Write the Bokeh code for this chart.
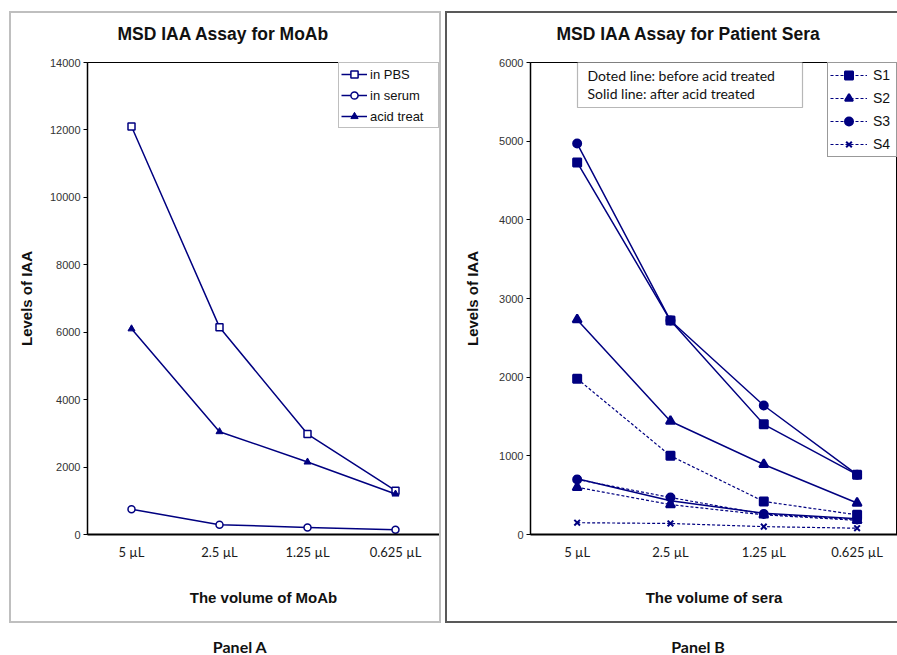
from bokeh.plotting import figure
from bokeh.models import (Range1d, FixedTicker, BoxAnnotation, Label, Legend, LegendItem, Title,
                          InlineStyleSheet)
from bokeh.core.properties import value
from bokeh.layouts import row, column
from bokeh.embed import file_html
from bokeh.resources import INLINE

# ---------------- data ----------------
categories = ["5 \u00b5L", "2.5 \u00b5L", "1.25 \u00b5L", "0.625 \u00b5L"]

# Panel A (MoAb)
moab_pbs = [12100, 6150, 2980, 1300]
moab_serum = [750, 290, 210, 140]
moab_acid = [6100, 3050, 2150, 1200]
ticks_a = [0, 2000, 4000, 6000, 8000, 10000, 12000, 14000]

# Panel B (patient sera) - before acid treatment (dashed)
s1_before = [1980, 1000, 420, 250]
s2_before = [600, 380, 250, 180]
s3_before = [700, 470, 260, 190]
s4_before = [150, 140, 100, 80]
# after acid treatment (solid)
s1_after = [4730, 2720, 1400, 760]
s2_after = [2730, 1440, 890, 400]
s3_after = [4970, 2720, 1640, 760]
s4_after = [710, 430, 270, 200]
ticks_b = [0, 1000, 2000, 3000, 4000, 5000, 6000]
sera_names = ["S1", "S2", "S3", "S4"]
panel_names = ["Panel A", "Panel B"]

NAVY = "#000080"
xs = [i + 0.5 for i in range(len(categories))]


def style_axes(p, xtitle, yticks, x_standoff, y_standoff):
    p.xgrid.visible = False
    p.ygrid.visible = False
    p.outline_line_color = "black"
    p.outline_line_width = 1
    ax = p.xaxis[0]
    ax.ticker = FixedTicker(ticks=xs)
    ax.major_label_overrides = {x: c for x, c in zip(xs, categories)}
    ax.major_tick_line_color = None
    ax.minor_tick_line_color = None
    ax.axis_line_color = "black"
    ax.axis_line_width = 2
    ax.major_label_text_font = "Lato"
    ax.major_label_text_font_size = "13px"
    ax.major_label_text_color = "#1a1a1a"
    ax.major_label_standoff = 3
    ax.axis_label = xtitle
    ax.axis_label_text_font = "Liberation Sans"
    ax.axis_label_text_font_style = "bold"
    ax.axis_label_text_font_size = "15px"
    ax.axis_label_text_color = "#111111"
    ax.axis_label_standoff = x_standoff
    ay = p.yaxis[0]
    ay.ticker = FixedTicker(ticks=yticks)
    ay.major_tick_out = 4
    ay.major_tick_in = 0
    ay.minor_tick_line_color = None
    ay.axis_line_color = "black"
    ay.axis_line_width = 1.5
    ay.major_tick_line_color = "black"
    ay.major_label_text_font = "Liberation Sans"
    ay.major_label_text_font_size = "11px"
    ay.major_label_text_color = "#333333"
    ay.major_label_standoff = 3
    ay.axis_label = "Levels of IAA"
    ay.axis_label_text_font = "Liberation Sans"
    ay.axis_label_text_font_style = "bold"
    ay.axis_label_text_font_size = "15px"
    ay.axis_label_text_color = "#111111"
    ay.axis_label_standoff = y_standoff


def frame_css(left, top, width, height, color, right_edge=True):
    extra = "" if right_edge else " border-right: none;"
    return InlineStyleSheet(css=(
        ":host::after { content: ''; position: absolute; "
        f"left: {left}px; top: {top}px; width: {width}px; height: {height}px; "
        f"border: 2px solid {color};{extra} box-sizing: border-box; "
        "pointer-events: none; z-index: 100; }"))


def chart_title(p, text, offset, standoff):
    p.title = Title(text=text, align="left", offset=offset, standoff=standoff,
                    text_font="Liberation Sans", text_font_style="bold",
                    text_font_size="17.5px", text_color="#111111")


# ---------------- Panel A ----------------
pA = figure(width=445, height=625, x_range=Range1d(0, 4), y_range=Range1d(0, 14000),
            output_backend="svg", toolbar_location=None,
            min_border_left=87, min_border_right=6, min_border_top=62, min_border_bottom=90,
            stylesheets=[frame_css(9, 11, 432, 612, "#bfbfbf")])
style_axes(pA, "The volume of MoAb", ticks_a, 26, 12)
chart_title(pA, "MSD IAA Assay for MoAb", 30, 37)

la1 = pA.line(xs, moab_pbs, line_color=NAVY, line_width=1.5)
ma1 = pA.scatter(xs, moab_pbs, marker="square", size=7, fill_color="white", line_color=NAVY, line_width=1.5)
la2 = pA.line(xs, moab_serum, line_color=NAVY, line_width=1.5)
ma2 = pA.scatter(xs, moab_serum, marker="circle", size=7, fill_color="white", line_color=NAVY, line_width=1.5)
la3 = pA.line(xs, moab_acid, line_color=NAVY, line_width=1.5)
ma3 = pA.scatter(xs, moab_acid, marker="triangle", size=7, fill_color=NAVY, line_color=NAVY)

legA = Legend(items=[LegendItem(label="in PBS", renderers=[la1, ma1]),
                     LegendItem(label="in serum", renderers=[la2, ma2]),
                     LegendItem(label="acid treat", renderers=[la3, ma3])],
              location="top_right", margin=0, padding=2, spacing=3,
              glyph_width=26, glyph_height=18, label_height=18, label_width=66,
              label_standoff=3, label_text_font="Liberation Sans", label_text_font_size="13px",
              label_text_color="#111111", border_line_color="#808080", border_line_width=1,
              background_fill_color="white", background_fill_alpha=1)
pA.add_layout(legA)

# ---------------- Panel B ----------------
pB = figure(width=452, height=625, x_range=Range1d(0, 3.933), y_range=Range1d(0, 6000),
            output_backend="svg", toolbar_location=None,
            min_border_left=85, min_border_right=0, min_border_top=61, min_border_bottom=91,
            stylesheets=[frame_css(0, 11, 452, 612, "#595959", right_edge=False)])
style_axes(pB, "The volume of sera", ticks_b, 26, 15)
chart_title(pB, "MSD IAA Assay for Patient Sera", 26, 37)

markers = ["square", "triangle", "circle", "x"]
before = [s1_before, s2_before, s3_before, s4_before]
after = [s1_after, s2_after, s3_after, s4_after]
items = []
for name, mk, yb, ya in zip(sera_names, markers, before, after):
    sz = 9 if mk == "triangle" else 8
    pB.line(xs, ya, line_color=NAVY, line_width=1.5)
    pB.scatter(xs, ya, marker=mk, size=sz, fill_color=NAVY, line_color=NAVY, line_width=2)
    lb = pB.line(xs, yb, line_color=NAVY, line_width=1.2, line_dash="3 2")
    mb = pB.scatter(xs, yb, marker=mk, size=sz, fill_color=NAVY, line_color=NAVY, line_width=2)
    items.append(LegendItem(label=name, renderers=[lb, mb]))

legB = Legend(items=items, location="top_right", margin=0, padding=2, spacing=3,
              glyph_width=37, glyph_height=20, label_height=20, label_width=21,
              label_standoff=6, label_text_font="Liberation Sans", label_text_font_size="14px",
              label_text_color="#111111", border_line_color="#333333", border_line_width=1,
              background_fill_color="white", background_fill_alpha=1)
pB.add_layout(legB)

pB.add_layout(BoxAnnotation(left=132, right=357, top=60, bottom=107,
                            left_units="canvas", right_units="canvas",
                            top_units="canvas", bottom_units="canvas",
                            fill_color="white", fill_alpha=1, line_color="#111111", line_width=1.2))
for txt, yy in (("Doted line: before acid treated", 75), ("Solid line:  after acid treated", 93)):
    pB.add_layout(Label(x=142, y=yy, x_units="canvas", y_units="canvas", text=txt,
                        text_align="left", text_baseline="middle", text_font="Lato",
                        text_font_size="14px", text_color="#111111"))

# ---------------- panel captions ----------------
pL = figure(width=897, height=30, x_range=Range1d(0, 897), y_range=Range1d(0, 30),
            output_backend="svg", toolbar_location=None,
            min_border=0, min_border_left=0, min_border_right=0, min_border_top=0, min_border_bottom=0)
pL.axis.visible = False
pL.grid.visible = False
pL.outline_line_color = None
pL.text(x=[239.5, 697.5], y=[9, 9], text=panel_names, text_align="center",
        text_baseline="middle", text_font=value("Lato"), text_font_style="bold",
        text_font_size="16px", text_color="#111111")

layout = column(row(pA, pB), pL)
open("out.html", "w").write(file_html(layout, INLINE))
